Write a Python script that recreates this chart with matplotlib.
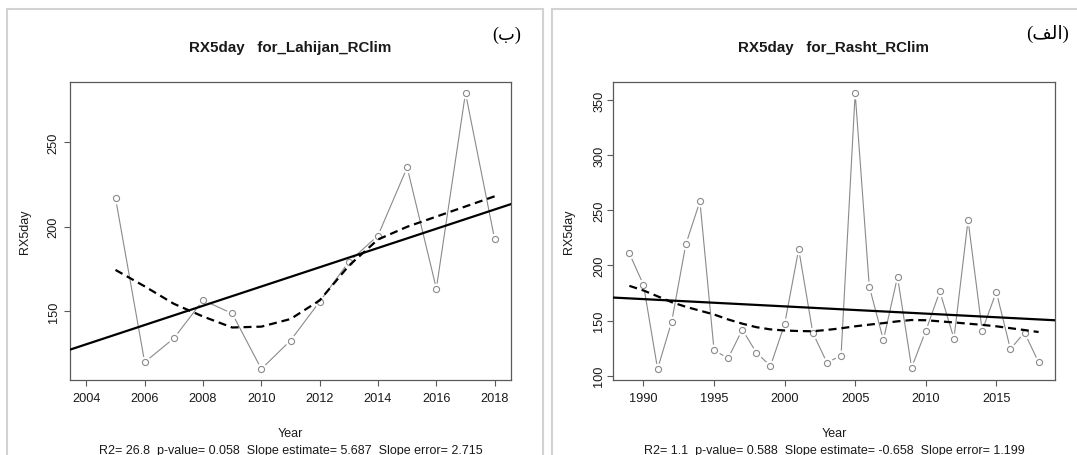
"""RX5day trend panels for Lahijan and Rasht (RClimDex style)."""

import matplotlib as mpl
import matplotlib.pyplot as plt
import numpy as np
from matplotlib.patches import Rectangle

W, H = 1077, 456

INK = "#1a1a1a"
BOX = "#5a5a5a"
GREY = "#8a8a8a"
FRAME = "#d2d2d2"

# --- Lahijan (panel ب) ---
LAH_YEARS = list(range(2005, 2019))
LAH_VALUES = [217.0, 120.0, 134.1, 156.6, 148.8, 116.0, 132.8,
              155.8, 179.3, 194.8, 235.1, 163.5, 279.0, 192.6]
LAH_SMOOTH = [174.5, 164.8, 154.5, 147.0, 140.5, 141.0, 145.5,
              156.5, 177.0, 192.5, 200.0, 206.0, 212.0, 218.0]
LAH_SLOPE = 5.687
LAH_XTICKS = list(range(2004, 2019, 2))
LAH_YTICKS = [150, 200, 250]
LAH_STATS = "R2= 26.8  p-value= 0.058  Slope estimate= 5.687  Slope error= 2.715"

# --- Rasht (panel الف) ---
RAS_YEARS = list(range(1989, 2019))
RAS_VALUES = [210.9, 182.4, 106.1, 149.1, 219.1, 258.2, 123.0, 115.8, 141.8, 120.9,
              108.8, 146.7, 214.8, 138.8, 111.8, 118.2, 356.4, 180.9, 132.4, 189.7,
              107.3, 140.6, 176.4, 133.6, 241.2, 140.9, 176.1, 124.2, 139.1, 112.1]
RAS_SMOOTH = [181.5, 177.3, 172.0, 166.7, 162.5, 159.0, 155.5, 151.0, 147.2, 144.0,
              142.0, 141.0, 140.5, 140.3, 141.5, 143.0, 144.8, 146.3, 147.7, 149.3,
              150.5, 150.3, 149.3, 148.3, 147.2, 146.1, 144.8, 143.1, 141.4, 139.6]
RAS_SLOPE = -0.658
RAS_XTICKS = list(range(1990, 2016, 5))
RAS_YTICKS = [100, 150, 200, 250, 300, 350]
RAS_STATS = "R2= 1.1  p-value= 0.588  Slope estimate= -0.658  Slope error= 1.199"

# visual-order presentation forms, matplotlib does no Arabic shaping
LABEL_B = "(\uFE8F)"
LABEL_ALEF = "(\uFED2\uFEDF\uFE8D)"


def fx(px):
    return px / W


def fy(py):
    return 1 - py / H


def r_range(values):
    lo, hi = min(values), max(values)
    pad = (hi - lo) * 0.04
    return lo - pad, hi + pad


def panel(fig, box, years, values, smooth, slope, xticks, yticks,
          title, stats, ylab_px, tick_pad):
    left, top, right, bottom = box
    ax = fig.add_axes([fx(left), fy(bottom), fx(right - left), (bottom - top) / H])

    ax.plot(years, values, color=GREY, lw=0.8, zorder=1)
    ax.plot(years, values, ls="none", marker="o", ms=8.5, mfc="white",
            mec="none", zorder=2)
    ax.plot(years, values, ls="none", marker="o", ms=4.4, mfc="white",
            mec=GREY, mew=0.8, zorder=3)

    xlim = r_range(xticks[:1] + [years[-1]]) if years[0] > xticks[0] else r_range(years)
    ax.set_xlim(*xlim)
    ax.set_ylim(*r_range(values))

    xm, ym = np.mean(years), np.mean(values)
    xs = np.array(xlim)
    ax.plot(xs, ym + slope * (xs - xm), color="black", lw=1.6, zorder=4)
    ax.plot(years, smooth, color="black", lw=1.6, ls=(0, (3.6, 2.2)), zorder=4)

    ax.set_xticks(xticks)
    ax.set_yticks(yticks)
    ax.tick_params(colors=BOX, labelcolor=INK, labelsize=9.2, length=4, width=0.8)
    ax.tick_params(axis="x", pad=4.5)
    ax.tick_params(axis="y", pad=tick_pad)
    for lab in ax.get_yticklabels():
        lab.set_rotation(90)
        lab.set_va("center")
    for side in ax.spines.values():
        side.set_color(BOX)
        side.set_linewidth(0.9)

    cx = (left + right) / 2
    fig.text(fx(cx), fy(48), title, ha="center", va="center",
             fontsize=10.9, weight="bold", color=INK)
    fig.text(fx(ylab_px), fy((top + bottom) / 2), "RX5day", rotation=90,
             ha="center", va="center", fontsize=9, color=INK)
    fig.text(fx(cx), fy(434), "Year", ha="center", va="center", fontsize=9, color=INK)
    fig.text(fx(cx), fy(451), stats, ha="center", va="center", fontsize=9, color=INK)
    return ax


def main():
    mpl.rcParams["font.family"] = ["Liberation Sans", "DejaVu Sans"]
    fig = plt.figure(figsize=(W / 100, H / 100), dpi=100)
    fig.patch.set_facecolor("white")

    # panel frames
    for x0, x1 in [(7, 543), (552, 1090)]:
        fig.patches.append(Rectangle((fx(x0), fy(470)), fx(x1 - x0), (470 - 10) / H,
                                     transform=fig.transFigure, fill=False,
                                     ec=FRAME, lw=1.5, zorder=0))

    panel(fig, (70, 83, 511, 381), LAH_YEARS, LAH_VALUES, LAH_SMOOTH, LAH_SLOPE,
          LAH_XTICKS, LAH_YTICKS, "RX5day   for_Lahijan_RClim", LAH_STATS, 25, 3.5)
    panel(fig, (613, 83, 1055, 381), RAS_YEARS, RAS_VALUES, RAS_SMOOTH, RAS_SLOPE,
          RAS_XTICKS, RAS_YTICKS, "RX5day   for_Rasht_RClim", RAS_STATS, 569, 1.5)

    serif = ["Liberation Serif", "DejaVu Sans"]
    fig.text(fx(507), fy(35), LABEL_B, ha="center", va="center", fontsize=13,
             family=serif, color="black")
    fig.text(fx(1048), fy(34), LABEL_ALEF, ha="center", va="center", fontsize=13.5,
             family=serif, color="black")

    fig.savefig("out.png", dpi=100)
    plt.close(fig)


if __name__ == "__main__":
    main()
